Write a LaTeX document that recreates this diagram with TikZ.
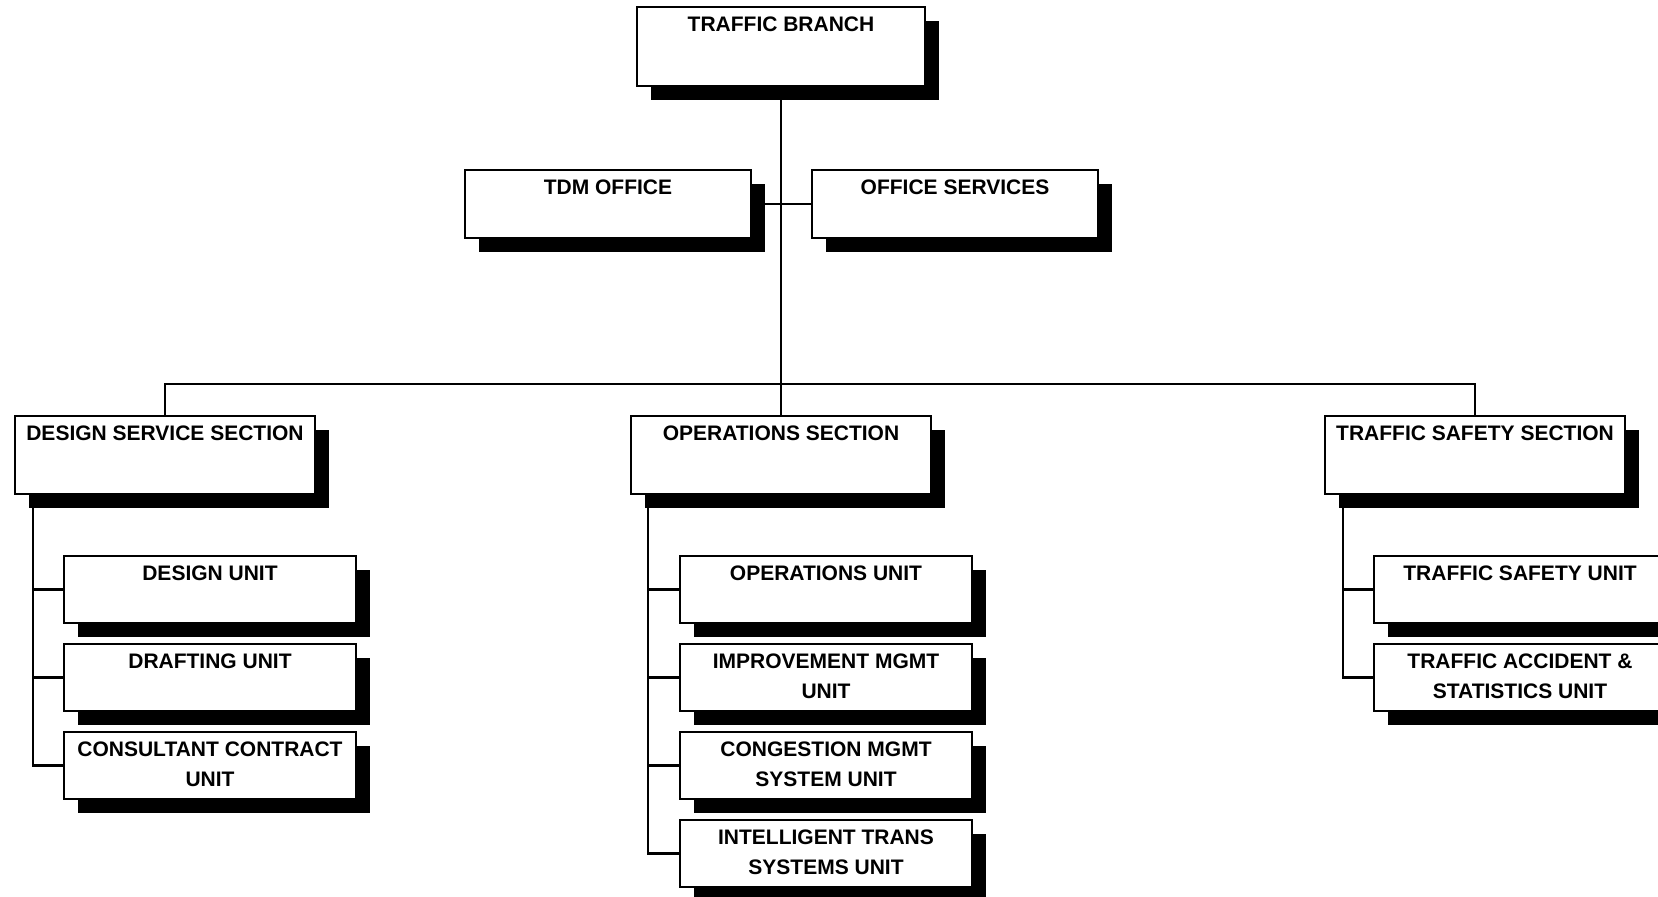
\documentclass[tikz,border=0pt]{standalone}
\usepackage{fontspec}
\setmainfont{Liberation Sans}
\usetikzlibrary{shadows}

\begin{document}
\begin{tikzpicture}[
    x=0.5pt, y=-0.5pt,
    org/.style={rectangle, draw=black, fill=white, line width=1pt, anchor=north west,
                inner sep=0pt, align=center, text height=12.3pt,
                font=\bfseries\fontsize{10.5}{15}\selectfont,
                drop shadow={shadow xshift=7pt, shadow yshift=-7pt, fill=black, opacity=1}},
    topbox/.style={org, minimum width=144pt, minimum height=39.5pt, text depth=27.2pt},
    staffbox/.style={org, minimum width=143pt, minimum height=34pt, text depth=21.7pt},
    secbox/.style={org, minimum width=150pt, minimum height=39pt, text depth=26.7pt},
    unitbox/.style={org, minimum width=146pt, minimum height=33.5pt, text depth=21.2pt},
    tallunit/.style={unitbox, text height=27.3pt, text depth=6.2pt},
    link/.style={line width=1.2pt, black},
  ]
    \clip (0,0) rectangle (1658,897);
    \useasboundingbox (0,0) rectangle (1658,897);

    % --- Branch and staff offices ---
    \node[topbox]   (branch) at (636,6)    {TRAFFIC BRANCH};
    \node[staffbox] (tdm)    at (464,169)  {TDM OFFICE};
    \node[staffbox] (osv)    at (811,169)  {OFFICE SERVICES};

    % --- Sections ---
    \node[secbox] (dss) at (14,415)   {DESIGN SERVICE SECTION};
    \node[secbox] (ops) at (630,415)  {OPERATIONS SECTION};
    \node[secbox] (tss) at (1324,415) {TRAFFIC SAFETY SECTION};

    % --- Design units ---
    \node[unitbox]  (du)  at (63,555) {DESIGN UNIT};
    \node[unitbox]  (dru) at (63,643) {DRAFTING UNIT};
    \node[tallunit] (ccu) at (63,731) {CONSULTANT CONTRACT\\UNIT};

    % --- Operations units ---
    \node[unitbox]  (opu) at (679,555) {OPERATIONS UNIT};
    \node[tallunit] (imu) at (679,643) {IMPROVEMENT MGMT\\UNIT};
    \node[tallunit] (cmu) at (679,731) {CONGESTION MGMT\\SYSTEM UNIT};
    \node[tallunit] (itu) at (679,819) {INTELLIGENT TRANS\\SYSTEMS UNIT};

    % --- Traffic safety units ---
    \node[unitbox]  (tsu) at (1373,555) {TRAFFIC SAFETY UNIT};
    \node[tallunit] (tau) at (1373,643) {TRAFFIC ACCIDENT \&\\STATISTICS UNIT};

    % --- Connectors ---
    \coordinate (bar) at (branch.south |- 0,384);
    \draw[link] (branch.south) -- (branch.south |- ops.north);
    \draw[link] (tdm.east) -- (osv.west);
    \draw[link] (dss.north) |- (bar) -| (tss.north);

    \foreach \u in {du, dru, ccu}
      \draw[link] ([xshift=9.5pt]dss.south west) |- (\u.west);
    \foreach \u in {opu, imu, cmu, itu}
      \draw[link] ([xshift=9pt]ops.south west) |- (\u.west);
    \foreach \u in {tsu, tau}
      \draw[link] ([xshift=9.5pt]tss.south west) |- (\u.west);
\end{tikzpicture}
\end{document}
